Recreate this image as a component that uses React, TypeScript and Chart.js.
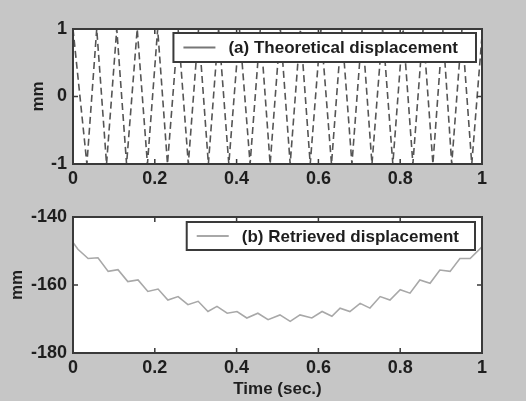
import React, { useEffect, useRef } from 'react';
import { Chart, registerables } from 'chart.js';

Chart.register(...registerables);

// ---- Data ----
// (a) Theoretical displacement: turning points (peaks / troughs) of the oscillation
const topTimes = [
  0.0, 0.034, 0.058, 0.082, 0.107, 0.131, 0.157, 0.182, 0.207, 0.231, 0.257, 0.282,
  0.307, 0.331, 0.356, 0.381, 0.407, 0.433, 0.458, 0.482, 0.507, 0.531, 0.556, 0.58,
  0.606, 0.632, 0.657, 0.682, 0.707, 0.731, 0.757, 0.782, 0.807, 0.831, 0.856, 0.88,
  0.904, 0.926, 0.951, 0.975, 1.0,
];
const topValues = [
  1, -1, 1, -1, 1, -1, 1, -1, 1, -1, 1, -1,
  1, -1, 1, -1, 1, -1, 1, -1, 1, -1, 1, -1,
  1, -1, 1, -1, 1, -1, 1, -1, 1, -1, 1, -1,
  1, -1, 1, -1, 0.9,
];

// (b) Retrieved displacement
const bottomTimes = [
  0.0, 0.012, 0.037, 0.061, 0.086, 0.11, 0.134, 0.159, 0.183, 0.208, 0.232, 0.257,
  0.281, 0.306, 0.33, 0.352, 0.377, 0.401, 0.425, 0.452, 0.477, 0.506, 0.531, 0.555,
  0.584, 0.609, 0.633, 0.653, 0.677, 0.702, 0.726, 0.751, 0.775, 0.8, 0.824, 0.848,
  0.873, 0.897, 0.922, 0.946, 0.971, 0.988, 1.0,
];
const bottomValues = [
  -147.5, -149.5, -152.2, -152.0, -156.0, -155.5, -159.0, -158.5, -161.9, -161.2, -164.4, -163.4,
  -165.8, -164.8, -167.8, -166.3, -168.3, -167.8, -169.7, -168.3, -170.2, -168.8, -170.7, -168.8,
  -169.7, -167.8, -169.2, -166.8, -167.8, -165.4, -166.8, -163.4, -164.4, -161.4, -162.4, -158.5,
  -159.5, -155.6, -156.0, -152.2, -152.2, -150.2, -148.8,
];

const xTickValues = [0, 0.2, 0.4, 0.6, 0.8, 1];
const xTickLabels = ['0', '0.2', '0.4', '0.6', '0.8', '1'];
const topYTickValues = [-1, 0, 1];
const topYTickLabels = ['-1', '0', '1'];
const bottomYTickValues = [-180, -160, -140];
const bottomYTickLabels = ['-180', '-160', '-140'];

const topLegendText = '(a) Theoretical displacement';
const bottomLegendText = '(b) Retrieved displacement';
const yTitleText = 'mm';
const xTitleText = 'Time (sec.)';

const FONT = "'Liberation Sans', Arial, Helvetica, sans-serif";
const TEXT_COLOR = '#1e1e1e';
const FRAME_COLOR = '#3a3a3a';

const framePlugin = {
  id: 'frame',
  beforeDraw(chart: any) {
    const { ctx, chartArea } = chart;
    const { left, top, right, bottom } = chartArea;
    ctx.save();
    ctx.fillStyle = '#ffffff';
    ctx.fillRect(left, top, right - left, bottom - top);
    ctx.restore();
  },
  afterDraw(chart: any, _args: any, opts: any) {
    const { ctx, chartArea, scales } = chart;
    const { left, top, right, bottom } = chartArea;
    ctx.save();
    // inner ticks
    ctx.strokeStyle = FRAME_COLOR;
    ctx.lineWidth = 1.5;
    const tl = 5;
    ctx.beginPath();
    for (const t of scales.x.ticks) {
      const px = scales.x.getPixelForValue(t.value);
      ctx.moveTo(px, bottom);
      ctx.lineTo(px, bottom - tl);
      ctx.moveTo(px, top);
      ctx.lineTo(px, top + tl);
    }
    for (const t of scales.y.ticks) {
      const py = scales.y.getPixelForValue(t.value);
      ctx.moveTo(left, py);
      ctx.lineTo(left + tl, py);
      ctx.moveTo(right, py);
      ctx.lineTo(right - tl, py);
    }
    ctx.stroke();
    // frame
    ctx.lineWidth = 2;
    ctx.strokeRect(left, top, right - left, bottom - top);

    // legend
    if (opts && opts.text) {
      ctx.font = `bold ${opts.fontSize}px ${FONT}`;
      const w = ctx.measureText(opts.text).width;
      const boxRight = right - opts.offsetRight;
      const boxTop = top + opts.offsetTop;
      const textRight = boxRight - opts.padRight;
      const textLeft = textRight - w;
      const lineX2 = textLeft - 13;
      const lineX1 = lineX2 - 32;
      const boxLeft = lineX1 - 10;
      const midY = boxTop + opts.boxHeight / 2;
      ctx.fillStyle = '#ffffff';
      ctx.fillRect(boxLeft, boxTop, boxRight - boxLeft, opts.boxHeight);
      ctx.strokeStyle = FRAME_COLOR;
      ctx.lineWidth = 2;
      ctx.strokeRect(boxLeft, boxTop, boxRight - boxLeft, opts.boxHeight);
      ctx.strokeStyle = opts.lineColor;
      ctx.lineWidth = 2;
      ctx.beginPath();
      ctx.moveTo(lineX1, midY);
      ctx.lineTo(lineX2, midY);
      ctx.stroke();
      ctx.fillStyle = TEXT_COLOR;
      ctx.textBaseline = 'middle';
      ctx.textAlign = 'left';
      ctx.fillText(opts.text, textLeft, midY + 1);
    }
    ctx.restore();
  },
};

function makeOptions(cfg: any) {
  return {
    responsive: false,
    animation: false as const,
    devicePixelRatio: 1,
    layout: { padding: { left: 0, top: cfg.padTop, right: 44, bottom: 0 } },
    plugins: {
      legend: { display: false },
      tooltip: { enabled: false },
      frame: cfg.legend,
    },
    scales: {
      x: {
        type: 'linear' as const,
        min: 0,
        max: 1,
        afterBuildTicks: (scale: any) => {
          scale.ticks = xTickValues.map((v) => ({ value: v }));
        },
        afterFit: (scale: any) => {
          scale.height = cfg.xHeight;
        },
        ticks: {
          autoSkip: false,
          maxRotation: 0,
          padding: 4,
          color: TEXT_COLOR,
          font: { family: FONT, size: 18, weight: 'bold' as const },
          callback: (v: any) => {
            const i = xTickValues.findIndex((t) => Math.abs(t - v) < 1e-9);
            return i >= 0 ? xTickLabels[i] : '';
          },
        },
        grid: { display: false, drawTicks: false },
        border: { display: false },
        title: cfg.xTitle
          ? {
              display: true,
              text: xTitleText,
              color: TEXT_COLOR,
              font: { family: FONT, size: 17, weight: 'bold' as const },
              padding: { top: 0, bottom: 1 },
            }
          : { display: false },
      },
      y: {
        type: 'linear' as const,
        min: cfg.yMin,
        max: cfg.yMax,
        afterBuildTicks: (scale: any) => {
          scale.ticks = cfg.yTicks.map((v: number) => ({ value: v }));
        },
        afterFit: (scale: any) => {
          scale.width = 73;
        },
        ticks: {
          autoSkip: false,
          padding: 6,
          color: TEXT_COLOR,
          font: { family: FONT, size: 18, weight: 'bold' as const },
          callback: (v: any) => {
            const i = cfg.yTicks.findIndex((t: number) => Math.abs(t - v) < 1e-9);
            return i >= 0 ? cfg.yLabels[i] : '';
          },
        },
        grid: { display: false, drawTicks: false },
        border: { display: false },
        title: {
          display: true,
          text: yTitleText,
          color: TEXT_COLOR,
          font: { family: FONT, size: 17, weight: 'bold' as const },
          padding: { top: cfg.yTitlePad, bottom: 0 },
        },
      },
    },
  };
}

export default function App() {
  const topRef = useRef<HTMLCanvasElement>(null);
  const bottomRef = useRef<HTMLCanvasElement>(null);

  useEffect(() => {
    const top = new Chart(topRef.current as HTMLCanvasElement, {
      type: 'line',
      data: {
        datasets: [
          {
            label: topLegendText,
            data: topTimes.map((t, i) => ({ x: t, y: topValues[i] })),
            borderColor: '#555555',
            borderWidth: 1.6,
            borderDash: [7, 4],
            pointRadius: 0,
            tension: 0,
            fill: false,
          },
        ],
      },
      options: makeOptions({
        padTop: 29,
        xHeight: 36,
        yMin: -1,
        yMax: 1,
        yTicks: topYTickValues,
        yLabels: topYTickLabels,
        yTitlePad: 28,
        xTitle: false,
        legend: {
          text: topLegendText,
          fontSize: 17,
          offsetRight: 6,
          offsetTop: 4,
          padRight: 18,
          boxHeight: 29,
          lineColor: '#777777',
        },
      }) as any,
      plugins: [framePlugin],
    });

    const bottom = new Chart(bottomRef.current as HTMLCanvasElement, {
      type: 'line',
      data: {
        datasets: [
          {
            label: bottomLegendText,
            data: bottomTimes.map((t, i) => ({ x: t, y: bottomValues[i] })),
            borderColor: '#a8a8a8',
            borderWidth: 1.6,
            pointRadius: 0,
            tension: 0,
            fill: false,
          },
        ],
      },
      options: makeOptions({
        padTop: 17,
        xHeight: 48,
        yMin: -180,
        yMax: -140,
        yTicks: bottomYTickValues,
        yLabels: bottomYTickLabels,
        yTitlePad: 7,
        xTitle: true,
        legend: {
          text: bottomLegendText,
          fontSize: 17,
          offsetRight: 7,
          offsetTop: 5,
          padRight: 16,
          boxHeight: 28,
          lineColor: '#a8a8a8',
        },
      }) as any,
      plugins: [framePlugin],
    });

    return () => {
      top.destroy();
      bottom.destroy();
    };
  }, []);

  return (
    <div
      style={{
        position: 'fixed',
        left: 0,
        top: 0,
        width: 526,
        height: 401,
        background: '#c6c6c6',
        overflow: 'hidden',
      }}
    >
      <canvas
        ref={topRef}
        width={526}
        height={200}
        style={{ position: 'absolute', left: 0, top: 0, width: 526, height: 200 }}
      />
      <canvas
        ref={bottomRef}
        width={526}
        height={201}
        style={{ position: 'absolute', left: 0, top: 200, width: 526, height: 201 }}
      />
    </div>
  );
}
